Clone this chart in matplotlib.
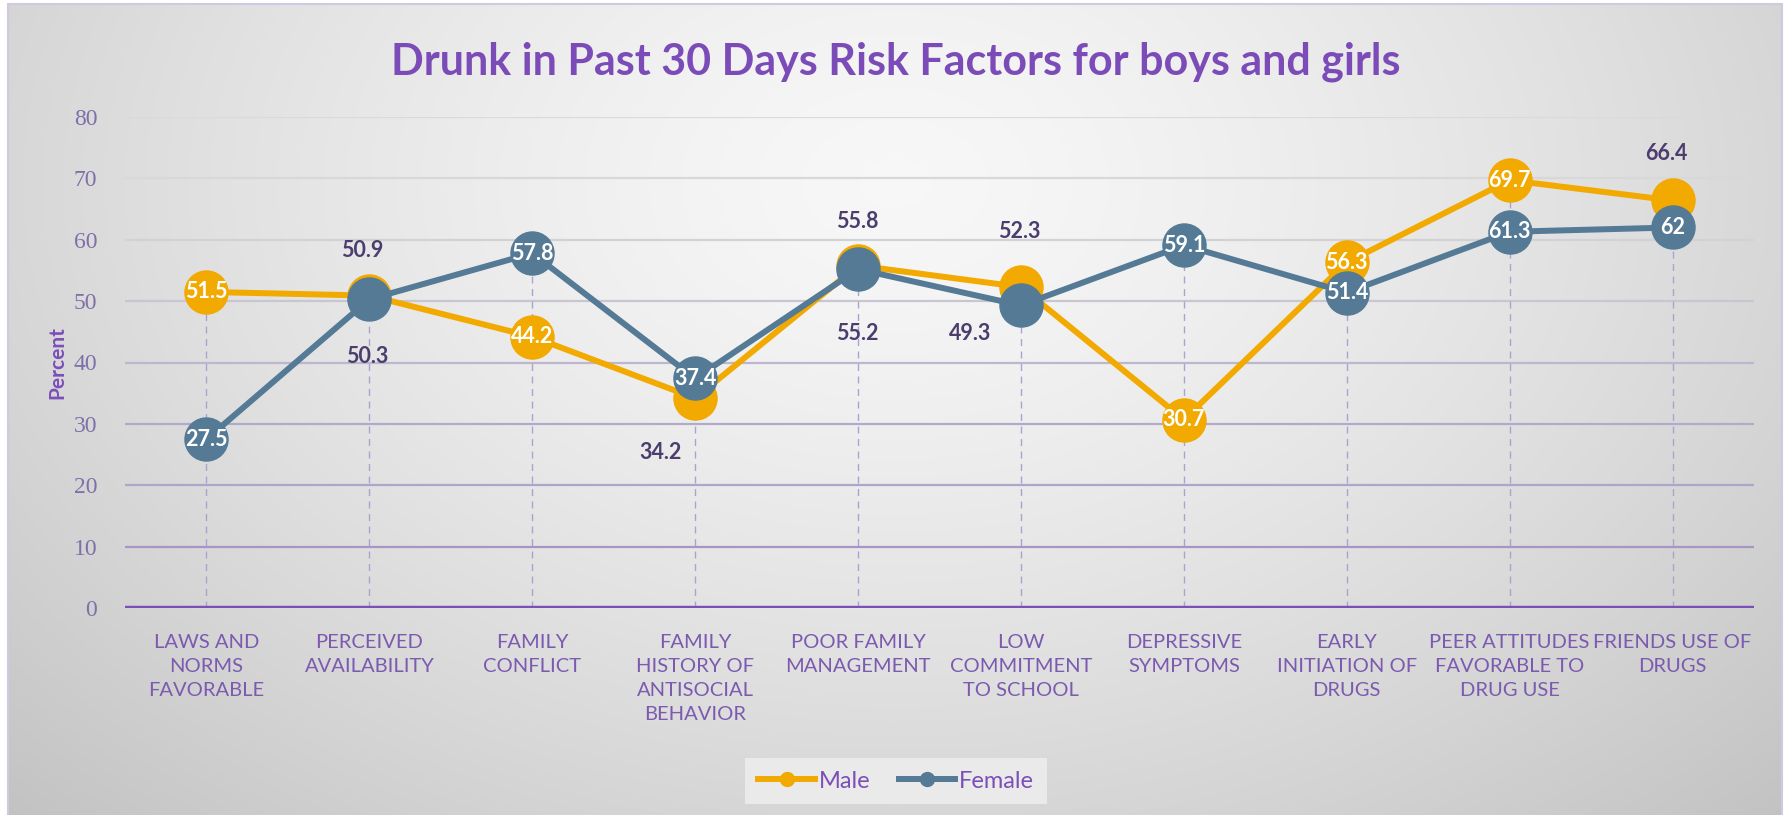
import numpy as np
import matplotlib.pyplot as plt
from matplotlib.lines import Line2D
from matplotlib.patches import Rectangle

categories = ["LAWS AND\nNORMS\nFAVORABLE", "PERCEIVED\nAVAILABILITY", "FAMILY\nCONFLICT",
              "FAMILY\nHISTORY OF\nANTISOCIAL\nBEHAVIOR", "POOR FAMILY\nMANAGEMENT",
              "LOW\nCOMMITMENT\nTO SCHOOL", "DEPRESSIVE\nSYMPTOMS", "EARLY\nINITIATION OF\nDRUGS",
              "PEER ATTITUDES\nFAVORABLE TO\nDRUG USE", "FRIENDS USE OF\nDRUGS"]
male = [51.5, 50.9, 44.2, 34.2, 55.8, 52.3, 30.7, 56.3, 69.7, 66.4]
female = [27.5, 50.3, 57.8, 37.4, 55.2, 49.3, 59.1, 51.4, 61.3, 62]
yticks = [0, 10, 20, 30, 40, 50, 60, 70, 80]

# label offsets in pixels; None -> white label centred on the marker
male_off = [None, (-7, 45), None, (-35, -54), (-1, 44), (-2, 56), None, None, None, (-6, 47)]
female_off = [None, (-2, -57), None, None, (-1, -64), (-51, -28), None, None, None, None]

ORANGE = "#F2A900"
BLUE = "#557A95"
PURPLE = "#7B4FB8"
DARK = "#4B3D6E"
grid_cols = ["#A596C6", "#AEA5CA", "#B2AACB", "#BCB6CF", "#C8C6D0", "#D2D2D4", "#D8D8D8", "#DADADA"]

W, H = 1785, 815
fig = plt.figure(figsize=(W / 100, H / 100), dpi=100)

# background gradient
bg = fig.add_axes([0, 0, 1, 1])
yy, xx = np.mgrid[0:1:400j, 0:1:800j]
d = np.sqrt(((xx - 0.5) / 0.62) ** 2 + ((yy - 0.22) / 0.95) ** 2)
g = np.clip(0.97 - 0.17 * d ** 1.4, 0.74, 1)
img = np.dstack([g, g, g])
bg.imshow(img, extent=[8 / W, 1782 / W, 0, 1 - 4 / H], aspect="auto", interpolation="bilinear")
bg.add_patch(Rectangle((8 / W, -0.01), (1782 - 8) / W, 1 - 4 / H + 0.01, fill=False,
                       edgecolor="#D3C8E2", lw=1.5))
bg.set_xlim(0, 1)
bg.set_ylim(0, 1)
bg.axis("off")

ax = fig.add_axes([125 / W, 1 - 608 / H, (1754 - 125) / W, (608 - 117) / H])
ax.patch.set_alpha(0)
x = np.arange(len(categories))

for i, yv in enumerate(yticks[1:]):
    ax.axhline(yv, color=grid_cols[i], lw=1.6, zorder=1)
ax.axhline(0, color=PURPLE, lw=3.2, zorder=2)

top = np.maximum(male, female)
ax.vlines(x, 0, top, colors="#ABA3CF", linestyles=(0, (5, 4)), lw=1, zorder=1.5)

ax.plot(x, male, color=ORANGE, lw=4.3, marker="o", ms=31, zorder=3)
ax.plot(x, female, color=BLUE, lw=4.3, marker="o", ms=31, zorder=4)

for vals, offs in [(male, male_off), (female, female_off)]:
    for i, v in enumerate(vals):
        o = offs[i]
        if o is None:
            ax.annotate(f"{v:g}", (i, v), ha="center", va="center", color="white",
                        fontsize=15.5, fontweight="bold", family="Lato", zorder=6)
        else:
            ax.annotate(f"{v:g}", (i, v), xytext=o, textcoords="offset pixels", ha="center",
                        va="center", color=DARK, fontsize=15.5, fontweight="bold", family="Lato",
                        zorder=6)

ax.set_xlim(-0.5, len(categories) - 0.5)
ax.set_ylim(0, 80)
for s in ax.spines.values():
    s.set_visible(False)

ax.set_xticks(x, categories)
ax.tick_params(axis="x", length=0, pad=19)
for lab in ax.get_xticklabels():
    lab.set_fontfamily("Lato")
    lab.set_fontsize(14.5)
    lab.set_color("#7B5AB0")
    lab.set_linespacing(1.5)

ax.set_yticks(yticks)
ax.tick_params(axis="y", length=0, pad=20)
for lab in ax.get_yticklabels():
    lab.set_fontfamily("Liberation Serif")
    lab.set_fontsize(17)
    lab.set_color("#8070A8")

fig.text(57 / W, 1 - 363 / H, "Percent", rotation=90, ha="center", va="center",
         fontsize=15, fontweight="bold", color=PURPLE, family="Lato")

fig.text(0.502, 1 - 62 / H, "Drunk in Past 30 Days Risk Factors for boys and girls",
         ha="center", va="center", fontsize=31, fontweight="bold", color="#7B4BB7", family="Lato")

handles = [Line2D([], [], color=ORANGE, lw=4.3, marker="o", ms=10),
           Line2D([], [], color=BLUE, lw=4.3, marker="o", ms=10)]
leg = fig.legend(handles, ["Male", "Female"], loc="center", bbox_to_anchor=(0.502, 1 - 781 / H),
                 ncol=2, frameon=True, fancybox=False, facecolor="#EEEEEE", edgecolor="none",
                 framealpha=0.85, handlelength=2.4, handletextpad=0.15, columnspacing=1.2,
                 borderpad=0.55, prop={"family": "Lato", "size": 17})
for t in leg.get_texts():
    t.set_color(PURPLE)

fig.savefig("out.png", dpi=100)
